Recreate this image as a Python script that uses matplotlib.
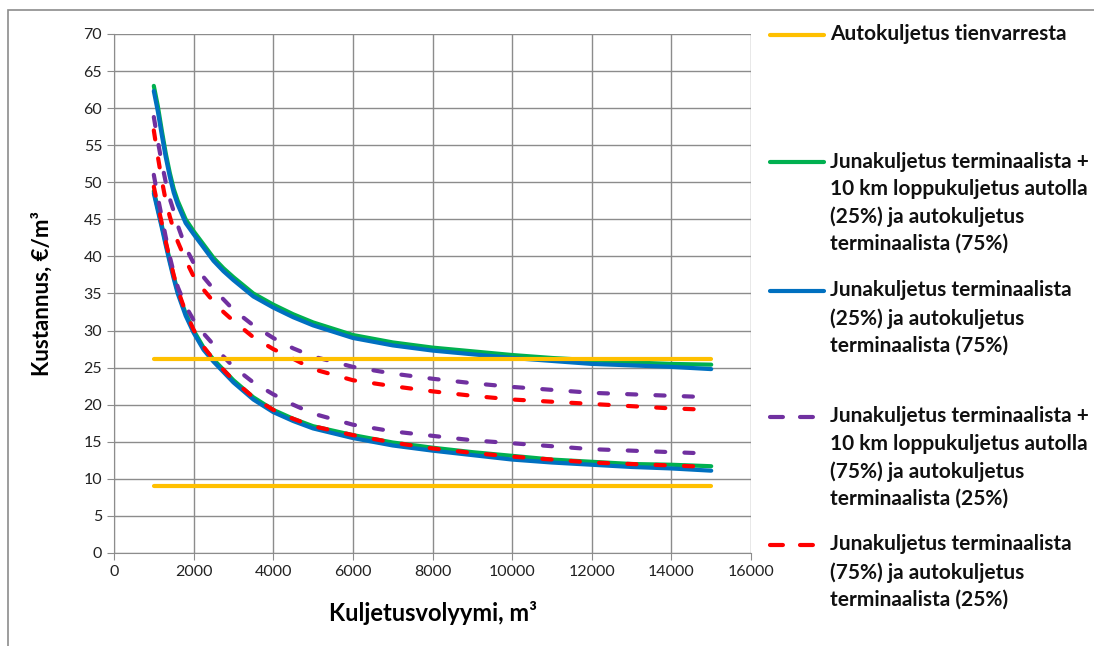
# Kuljetuskustannukset – kustannus vs. kuljetusvolyymi

import matplotlib.pyplot as plt
from matplotlib.lines import Line2D
from matplotlib.patches import Rectangle

# -------------------------------------------------------
# DATA (luettu kuvasta)
# -------------------------------------------------------
volume = [1000, 1100, 1200, 1300, 1400, 1500, 1600, 1800, 2000, 2250,
          2500, 2750, 3000, 3500, 4000, 4500, 5000, 6000, 7000, 8000,
          9000, 10000, 11000, 12000, 13000, 14000, 15000]

road_volume = [1000, 15000]
road_upper = [26.2, 26.2]
road_lower = [9.0, 9.0]

green_upper = [63.0, 60.3, 57.0, 53.9, 51.3, 49.1, 47.5, 45.0, 43.4, 41.6,
               39.8, 38.4, 37.2, 35.0, 33.5, 32.2, 31.1, 29.4, 28.4, 27.7,
               27.2, 26.7, 26.3, 26.0, 25.7, 25.5, 25.4]
green_lower = [48.8, 46.5, 44.2, 41.8, 39.5, 37.3, 35.3, 32.3, 30.0, 27.7,
               26.1, 24.7, 23.3, 21.0, 19.3, 18.1, 17.1, 15.9, 14.9, 14.2,
               13.6, 13.1, 12.6, 12.3, 12.0, 11.9, 11.7]

blue_upper = [62.3, 59.6, 56.4, 53.4, 50.8, 48.6, 47.0, 44.5, 43.0, 41.2,
              39.4, 38.0, 36.8, 34.6, 33.1, 31.8, 30.7, 29.0, 28.0, 27.3,
              26.8, 26.3, 25.9, 25.5, 25.3, 25.1, 24.8]
blue_lower = [48.5, 46.2, 43.9, 41.5, 39.2, 37.0, 35.0, 32.0, 29.7, 27.4,
              25.8, 24.4, 23.0, 20.7, 19.0, 17.8, 16.8, 15.5, 14.5, 13.8,
              13.2, 12.6, 12.2, 11.9, 11.6, 11.4, 11.1]

purple_upper = [58.8, 55.6, 52.6, 50.0, 47.8, 46.1, 44.2, 41.2, 39.1, 37.2,
                35.6, 34.2, 32.8, 30.7, 29.0, 27.6, 26.5, 25.1, 24.2, 23.5,
                22.9, 22.4, 22.0, 21.6, 21.4, 21.2, 21.0]
purple_lower = [51.0, 48.0, 45.3, 42.6, 40.0, 37.8, 35.9, 33.3, 31.4, 29.6,
                28.1, 26.5, 25.1, 23.0, 21.4, 20.0, 18.8, 17.3, 16.4, 15.8,
                15.2, 14.8, 14.4, 14.0, 13.8, 13.6, 13.4]

red_upper = [57.0, 53.5, 50.3, 47.5, 45.4, 43.6, 42.0, 39.5, 37.3, 35.5,
             33.9, 32.5, 31.3, 29.1, 27.5, 26.2, 24.8, 23.3, 22.5, 21.8,
             21.2, 20.7, 20.4, 20.1, 19.8, 19.5, 19.3]
red_lower = [49.4, 46.9, 44.5, 42.0, 39.7, 37.5, 35.5, 32.5, 30.1, 27.8,
             26.1, 24.7, 23.3, 21.0, 19.3, 18.1, 17.1, 15.9, 14.9, 14.1,
             13.5, 13.0, 12.6, 12.2, 12.0, 11.8, 11.6]

legend_labels = [
    "Autokuljetus tienvarresta",
    "Junakuljetus terminaalista +\n10 km loppukuljetus autolla\n(25%) ja autokuljetus\nterminaalista (75%)",
    "Junakuljetus terminaalista\n(25%) ja autokuljetus\nterminaalista (75%)",
    "Junakuljetus terminaalista +\n10 km loppukuljetus autolla\n(75%) ja autokuljetus\nterminaalista (25%)",
    "Junakuljetus terminaalista\n(75%) ja autokuljetus\nterminaalista (25%)",
]

YELLOW = "#FFC000"
GREEN = "#00B050"
BLUE = "#0070C0"
PURPLE = "#7030A0"
RED = "#FF0000"

plt.rcParams["font.family"] = ["Lato", "DejaVu Sans"]

fig = plt.figure(figsize=(10.94, 6.46), dpi=100)
ax = fig.add_axes([0.1042, 0.144, 0.5823, 0.8034])

# outer chart frame
fig.add_artist(Rectangle((8 / 1094, -0.05), 1.2, 1 - 10 / 646 + 0.05,
                         transform=fig.transFigure, fill=False,
                         edgecolor="#8c8c8c", lw=1.2))

solid = dict(lw=3.0, solid_capstyle="round")
dashed = dict(lw=3.0, dashes=(2.2, 4.6), dash_capstyle="round")

ax.plot(volume, green_upper, color=GREEN, zorder=3, **solid)
ax.plot(volume, green_lower, color=GREEN, zorder=3, **solid)
ax.plot(volume, blue_upper, color=BLUE, zorder=4, **solid)
ax.plot(volume, blue_lower, color=BLUE, zorder=4, **solid)
ax.plot(volume, purple_upper, color=PURPLE, zorder=5, **dashed)
ax.plot(volume, purple_lower, color=PURPLE, zorder=5, **dashed)
ax.plot(volume, red_upper, color=RED, zorder=6, **dashed)
ax.plot(volume, red_lower, color=RED, zorder=6, **dashed)
ax.plot(road_volume, road_upper, color=YELLOW, zorder=7, **solid)
ax.plot(road_volume, road_lower, color=YELLOW, zorder=7, **solid)

ax.set_xlim(0, 16000)
ax.set_ylim(0, 70)
ax.set_xticks(range(0, 16001, 2000))
ax.set_yticks(range(0, 71, 5))
ax.grid(True, color="#8c8c8c", lw=1.0)
ax.set_axisbelow(True)
for side in ["top", "right"]:
    ax.spines[side].set_visible(False)
for side in ["left", "bottom"]:
    ax.spines[side].set_color("#8c8c8c")
ax.tick_params(direction="out", length=5, color="#8c8c8c",
               labelsize=11.5, labelcolor="#222222")

ax.set_xlabel("Kuljetusvolyymi, m³", fontsize=17, fontweight="bold", labelpad=16)
ax.set_ylabel("Kustannus, €/m³", fontsize=16, fontweight="bold", labelpad=22)

# -------------------------------------------------------
# Legend (Excel-style, entries spread down the right side)
# -------------------------------------------------------
entries = [
    (YELLOW, "-", 35),
    (GREEN, "-", 162),
    (BLUE, "-", 291),
    (PURPLE, "--", 417),
    (RED, "--", 545),
]
for (color, style, ypix), label in zip(entries, legend_labels):
    yf = 1 - ypix / 646
    if style == "-":
        fig.add_artist(Line2D([770 / 1094, 824 / 1094], [yf, yf],
                              transform=fig.transFigure, color=color, **solid))
    else:
        fig.add_artist(Line2D([770 / 1094, 814 / 1094], [yf, yf],
                              transform=fig.transFigure, color=color, lw=3.0,
                              dashes=(3.1, 4.1), dash_capstyle="round"))
    fig.text(830 / 1094, yf + 10.5 / 646, label, ha="left", va="top",
             fontsize=15, fontweight="bold", linespacing=1.45,
             color="#111111")

fig.savefig("out.png", dpi=100)
